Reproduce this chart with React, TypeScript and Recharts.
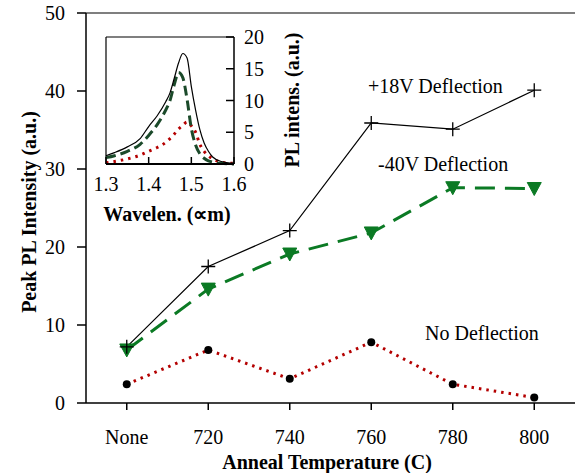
import React from 'react';
import { LineChart, Line, XAxis, YAxis, ReferenceLine } from 'recharts';

// main chart: peak PL vs anneal temperature
const temps = ['None', '720', '740', '760', '780', '800'];
const plus18V = [7.2, 17.5, 22.1, 35.9, 35.1, 40.1];
const minus40V = [6.8, 14.6, 19.1, 21.8, 27.6, 27.5];
const noDeflection = [2.4, 6.8, 3.1, 7.8, 2.4, 0.7];
const mainTicks = [0, 10, 20, 30, 40, 50];

// inset: PL spectra
const wavelen = [1.3, 1.32, 1.35, 1.38, 1.4, 1.42, 1.44, 1.45, 1.46, 1.47, 1.48, 1.49, 1.5, 1.51, 1.52, 1.53, 1.54, 1.55, 1.57, 1.6];
const specSolid = [1.3, 1.8, 2.7, 4.0, 5.9, 7.6, 9.8, 11.2, 13.5, 15.9, 17.4, 16.7, 12.2, 8.5, 5.4, 3.3, 2.0, 1.1, 0.4, 0.1];
const specDashed = [1.0, 1.3, 2.0, 3.1, 4.5, 6.2, 8.5, 10.0, 12.5, 14.4, 13.6, 10.2, 5.6, 3.0, 1.6, 0.9, 0.5, 0.3, 0.1, 0.0];
const specDotted = [0.2, 0.4, 0.8, 1.4, 2.0, 2.6, 3.4, 4.0, 4.7, 5.5, 6.1, 6.6, 6.0, 5.0, 3.1, 2.0, 1.3, 0.8, 0.3, 0.1];
const insetXTicks = [1.3, 1.4, 1.5, 1.6];
const insetYTicks = [0, 5, 10, 15, 20];

const mainData = temps.map((t, i) => ({ t, p18: plus18V[i], m40: minus40V[i], none: noDeflection[i] }));
const insetData = wavelen.map((w, i) => ({ w, a: specSolid[i], b: specDashed[i], c: specDotted[i] }));

const FONT = 'Liberation Serif, Times New Roman, serif';
const GREEN = '#0b7a24';
const DARK_GREEN = '#1b4a2a';
const RED = '#b40000';

const PlusDot = (props: any) => {
  const { cx, cy, index } = props;
  return (
    <path key={`p-${index}`} d={`M${cx - 7},${cy}H${cx + 7}M${cx},${cy - 7}V${cy + 7}`} stroke="#000" strokeWidth={1.3} fill="none" />
  );
};

const TriDot = (props: any) => {
  const { cx, cy, index } = props;
  return <path key={`t-${index}`} d={`M${cx - 7},${cy - 6}L${cx + 7},${cy - 6}L${cx},${cy + 7}Z`} fill={GREEN} stroke={GREEN} />;
};

const CircleDot = (props: any) => {
  const { cx, cy, index } = props;
  return <circle key={`c-${index}`} cx={cx} cy={cy} r={4} fill="#000" />;
};

const InsetXTick = (props: any) => {
  const { x, y, payload } = props;
  return (
    <g>
      <line x1={x} x2={x} y1={y} y2={y - 7} stroke="#000" strokeWidth={1.5} />
      <text x={x} y={y + 27} textAnchor="middle" fontSize={20} fontFamily={FONT} fill="#000">
        {Number(payload.value).toFixed(1)}
      </text>
    </g>
  );
};

const InsetYTick = (props: any) => {
  const { x, y, payload } = props;
  return (
    <g>
      <line x1={x} x2={x - 8} y1={y} y2={y} stroke="#000" strokeWidth={1.5} />
      <text x={x + 10} y={y + 7} textAnchor="start" fontSize={20} fontFamily={FONT} fill="#000">
        {payload.value}
      </text>
    </g>
  );
};

export default function App() {
  const tickStyle = { fontSize: 20, fontFamily: FONT, fill: '#000' };
  return (
    <div style={{ position: 'absolute', left: 0, top: 0, width: 577, height: 473, background: '#fff', fontFamily: FONT }}>
      <LineChart width={577} height={473} data={mainData} margin={{ top: 13, right: 2, bottom: 0, left: 0 }}>
        <XAxis dataKey="t" height={70} padding={{ left: 40.75, right: 40.75 }} tick={tickStyle} tickSize={7} tickMargin={20} stroke="#000" strokeWidth={1.5} interval={0} />
        <YAxis width={86} domain={[0, 50]} ticks={mainTicks} tick={tickStyle} tickSize={9} tickMargin={12} stroke="#000" strokeWidth={1.5} />
        <YAxis yAxisId="r" orientation="right" width={0} tick={false} tickLine={false} stroke="#000" />
        <ReferenceLine y={50} stroke="#000" strokeWidth={1.2} />
        <Line dataKey="none" stroke={RED} strokeWidth={3} strokeDasharray="2.5 5" dot={CircleDot} isAnimationActive={false} />
        <Line dataKey="m40" stroke={GREEN} strokeWidth={3} strokeDasharray="20 10" dot={TriDot} isAnimationActive={false} />
        <Line dataKey="p18" stroke="#000" strokeWidth={1.2} dot={PlusDot} isAnimationActive={false} />
        <text x={368} y={93} fontSize={20} fontFamily={FONT} fill="#000">+18V Deflection</text>
        <text x={378} y={171} fontSize={20} fontFamily={FONT} fill="#000">-40V Deflection</text>
        <text x={425} y={340} fontSize={20} fontFamily={FONT} fill="#000">No Deflection</text>
        <text x={327} y={469} textAnchor="middle" fontSize={20} fontWeight="bold" fontFamily={FONT} fill="#000">Anneal Temperature (C)</text>
        <text x={29} y={212} textAnchor="middle" dominantBaseline="central" transform="rotate(-90, 29, 212)" fontSize={20} fontWeight="bold" fontFamily={FONT} fill="#000">
          Peak PL Intensity (a.u.)
        </text>
      </LineChart>

      <div style={{ position: 'absolute', left: 88, top: 26 }}>
        <LineChart width={228} height={200} data={insetData} margin={{ top: 11, right: 0, bottom: 0, left: 18 }}>
          <XAxis dataKey="w" type="number" domain={[1.3, 1.6]} ticks={insetXTicks} height={62} tick={InsetXTick} tickLine={false} tickSize={0} tickMargin={0} stroke="#000" strokeWidth={2} />
          <YAxis orientation="right" width={82} domain={[0, 20]} ticks={insetYTicks} tick={InsetYTick} tickLine={false} tickSize={0} tickMargin={0} stroke="#000" strokeWidth={1.5} />
          <ReferenceLine x={1.3} stroke="#000" strokeWidth={1.2} />
          <ReferenceLine y={20} stroke="#000" strokeWidth={1.2} />
          <Line dataKey="c" type="monotone" stroke={RED} strokeWidth={3} strokeDasharray="2.5 5" dot={false} isAnimationActive={false} />
          <Line dataKey="b" type="monotone" stroke={DARK_GREEN} strokeWidth={3} strokeDasharray="10 5" dot={false} isAnimationActive={false} />
          <Line dataKey="a" type="monotone" stroke="#000" strokeWidth={1.2} dot={false} isAnimationActive={false} />
          <text x={79} y={195} textAnchor="middle" fontSize={20} fontWeight="bold" fontFamily={FONT} fill="#000">Wavelen. (∝m)</text>
          <text x={204} y={74} textAnchor="middle" dominantBaseline="central" transform="rotate(-90, 204, 74)" fontSize={20} fontWeight="bold" fontFamily={FONT} fill="#000">
            PL intens. (a.u.)
          </text>
        </LineChart>
      </div>
    </div>
  );
}
